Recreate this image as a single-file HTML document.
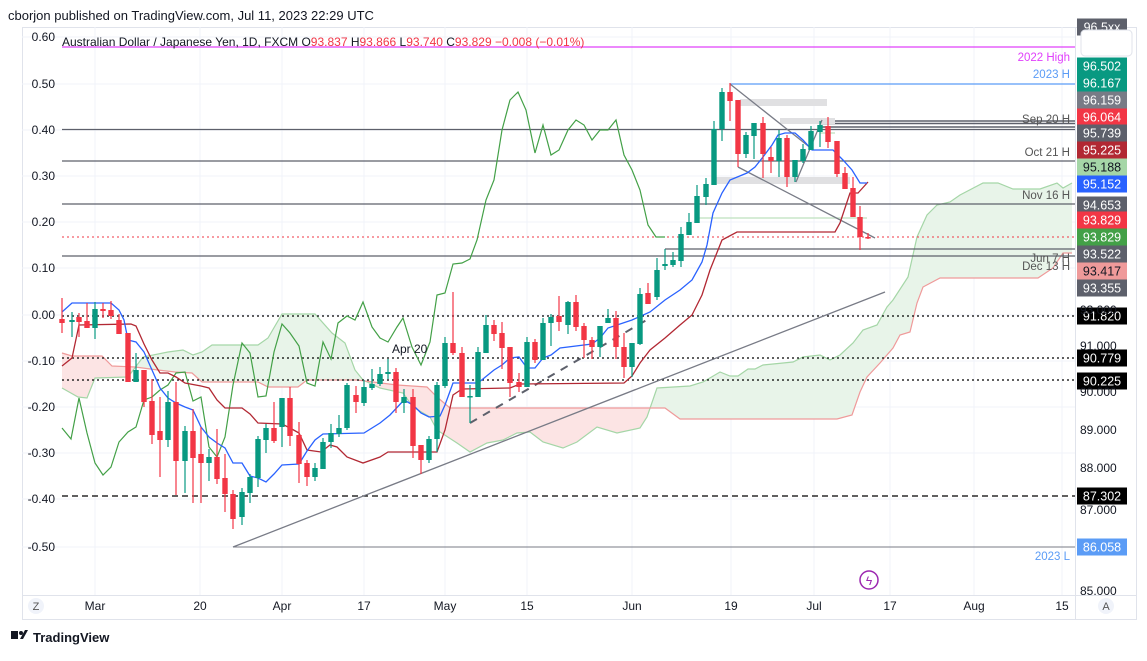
<!DOCTYPE html>
<html><head><meta charset="utf-8"><style>
body{margin:0;background:#fff;width:1147px;height:656px;overflow:hidden;font-family:"Liberation Sans",sans-serif}
svg text{font-family:"Liberation Sans",sans-serif}
</style></head><body>
<svg id="s" width="1147" height="656" xmlns="http://www.w3.org/2000/svg">
<rect x="0" y="0" width="1147" height="656" fill="#fff"/>
<text x="8" y="20" font-size="13" fill="#131722">cborjon published on TradingView.com, Jul 11, 2023 22:29 UTC</text>
<rect x="22.5" y="27.5" width="1114" height="592" fill="none" stroke="#e0e3eb"/>
<line x1="1075.5" y1="27" x2="1075.5" y2="620" stroke="#e0e3eb"/>
<line x1="22" y1="595.5" x2="1137" y2="595.5" stroke="#e0e3eb"/>
<g id="grid" stroke="#f0f3fa" stroke-width="1"></g>
<g id="cloud"></g>
<g id="lines"></g>
<g id="cand"></g>
<g id="over"></g>
<g id="axis" font-size="12" fill="#131722"></g>
<text x="62" y="46" font-size="12" fill="#131722">Australian Dollar / Japanese Yen, 1D, FXCM O<tspan fill="#f23645">93.837</tspan> H<tspan fill="#f23645">93.866</tspan> L<tspan fill="#f23645">93.740</tspan> C<tspan fill="#f23645">93.829</tspan> <tspan fill="#f23645">−0.008 (−0.01%)</tspan></text>
<text x="392" y="353" font-size="12" fill="#131722">Apr 20</text>
<g font-size="11.5" text-anchor="end">
<text x="1070" y="61" fill="#e040fb">2022 High</text>
<text x="1070" y="78" fill="#5b9cf6">2023 H</text>
<text x="1070" y="123" fill="#555">Sep 20 H</text>
<text x="1070" y="156" fill="#555">Oct 21 H</text>
<text x="1070" y="199" fill="#555">Nov 16 H</text>
<text x="1070" y="262" fill="#555">Jun 7 H</text>
<text x="1070" y="270" fill="#555">Dec 13 H</text>
<text x="1070" y="560" fill="#5b9cf6">2023 L</text>
</g>
<circle cx="869" cy="580" r="9" fill="none" stroke="#9c27b0" stroke-width="1.5"/>
<text x="869" y="585" font-size="12" fill="#9c27b0" text-anchor="middle">ϟ</text>
<circle cx="36" cy="606" r="8" fill="#f0f3fa"/><text x="36" y="610" font-size="11" text-anchor="middle" fill="#555">Z</text>
<circle cx="1106" cy="606" r="8" fill="#f0f3fa"/><text x="1106" y="610" font-size="11" text-anchor="middle" fill="#555">A</text>
<rect x="11" y="631" width="7" height="8" fill="#131722"/><circle cx="21" cy="633" r="2" fill="#131722"/><path d="M20 639 L25 630 L28 630 L23 639Z" fill="#131722"/>
<text x="33" y="642" font-size="13" fill="#131722" font-weight="bold">TradingView</text>
</svg>
<script>
var S=document.getElementById('s'),NS='http://www.w3.org/2000/svg';
function el(g,t,a){var e=document.createElementNS(NS,t);for(var k in a)e.setAttribute(k,a[k]);document.getElementById(g).appendChild(e);return e;}
function pl(g,pts,c,w,extra){var a={points:pts.map(p=>p.join(',')).join(' '),fill:'none',stroke:c,'stroke-width':w||1.3};for(var k in extra)a[k]=extra[k];return el(g,'polyline',a);}
[95,200,282,364,445,527,632,731,814,890,974,1062].forEach(x=>el('grid','line',{x1:x,y1:27,x2:x,y2:595}));
[37,84,130,176,222,268,315,361,407,453,499,547].forEach(y=>el('grid','line',{x1:22,y1:y,x2:1075,y2:y}));
var A=[[62,388],[78,397],[87,398],[95,378],[128,377],[143,357],[168,352],[183,350],[193,355],[202,352],[212,345],[258,345],[268,338],[282,314],[315,314],[332,333],[345,343],[355,370],[363,380],[380,388],[403,393],[413,407],[430,417],[437,430],[457,443],[470,452],[487,443],[503,440],[517,433],[530,432],[543,442],[563,448],[577,442],[597,427],[617,433],[640,428],[647,417],[657,388],[690,386],[703,382],[720,372],[730,376],[738,376],[748,369],[755,369],[763,365],[793,362],[803,357],[820,355],[830,360],[840,355],[853,343],[863,330],[877,325],[887,307],[893,300],[908,277],[917,237],[927,215],[937,205],[950,202],[960,195],[983,183],[998,183],[1013,189],[1040,189],[1057,183],[1063,188],[1072,183]];
var B=[[62,353],[72,356],[102,356],[112,366],[135,367],[158,370],[175,372],[192,373],[202,382],[258,382],[268,387],[298,387],[307,380],[357,380],[397,385],[427,387],[437,397],[450,408],[665,408],[680,419],[837,419],[852,415],[860,392],[867,377],[880,363],[893,348],[900,335],[910,332],[917,303],[923,287],[940,278],[1038,278],[1053,268],[1063,253],[1072,253]];
function interp(P,x){for(var i=0;i<P.length-1;i++){if(x>=P[i][0]&&x<=P[i+1][0]){var t=(x-P[i][0])/(P[i+1][0]-P[i][0]);return P[i][1]+t*(P[i+1][1]-P[i][1]);}}return P[P.length-1][1];}
for(var x=62;x<1072;x+=2){var x2=Math.min(x+2,1072);var a1=interp(A,x),b1=interp(B,x),a2=interp(A,x2),b2=interp(B,x2);var g=(a1+a2)<(b1+b2);
el('cloud','polygon',{points:x+','+a1+' '+x2+','+a2+' '+x2+','+b2+' '+x+','+b1,fill:g?'#e8f4e9':'#fce4e4',stroke:'none'});}
pl('cloud',A,'#a5d6a7',1.2);pl('cloud',B,'#ef9a9a',1.2);
function hl(y,x1,x2,c,w,d){var a={x1:x1,y1:y,x2:x2,y2:y,stroke:c,'stroke-width':w||1};if(d)a['stroke-dasharray']=d;el('lines','line',a);}
hl(47,62,1075,'#e040fb',1.2);hl(84,730,1075,'#5b9cf6',1.2);
hl(121,820,1075,'#5d606b',1.6);hl(123.5,820,1075,'#5d606b',1.6);hl(127,820,1075,'#5d606b',1.6);
hl(129.5,62,1075,'#5d606b',1.2);hl(161,62,1075,'#5d606b',1.2);hl(204,62,1075,'#5d606b',1.2);
hl(237,62,1075,'#f23645',1,'2,3');hl(249,665,1075,'#5d606b',1.2);hl(256,62,1075,'#5d606b',1.2);
hl(316,62,1075,'#000',1.2,'2,3');hl(358,62,1075,'#000',1.2,'2,3');hl(380,62,1075,'#000',1.2,'2,3');
hl(496,62,1075,'#000',1.2,'6,4');hl(547,233,1075,'#787b86',1);
hl(218,697,867,'#c8e6c9',1.5);hl(133,820,835,'#c8e6c9',1.5);
el('lines','line',{x1:665,y1:249,x2:665,y2:262,stroke:'#5d606b'});
el('lines','rect',{x:740,y:99,width:87,height:7,fill:'#e0e0e2'});
el('lines','rect',{x:780,y:118,width:55,height:6,fill:'#e0e0e2'});
el('lines','rect',{x:715,y:177,width:135,height:7,fill:'#e0e0e2'});
el('lines','line',{x1:233,y1:547,x2:885,y2:292,stroke:'#787b86','stroke-width':1.3});
el('lines','line',{x1:470,y1:423,x2:650,y2:318,stroke:'#5d606b','stroke-width':2,'stroke-dasharray':'8,7'});
el('lines','line',{x1:730,y1:84,x2:812,y2:149,stroke:'#787b86','stroke-width':1.3});
el('lines','line',{x1:738,y1:167,x2:875,y2:238,stroke:'#787b86','stroke-width':1.3});
el('lines','line',{x1:796,y1:182,x2:822,y2:120,stroke:'#787b86','stroke-width':1.3});
var blue=[[62,312],[72,303],[111,303],[119,310],[124,320],[128,340],[136,342],[144,352],[152,370],[160,388],[168,398],[176,403],[185,407],[193,410],[201,427],[209,437],[217,443],[225,448],[233,463],[242,463],[250,476],[258,478],[266,482],[274,474],[282,465],[299,464],[307,451],[315,440],[323,434],[364,433],[380,423],[390,415],[404,400],[413,405],[421,413],[429,417],[440,416],[445,405],[453,383],[478,383],[494,370],[502,365],[510,358],[519,357],[527,368],[535,368],[543,358],[551,355],[560,348],[592,344],[600,338],[608,328],[632,320],[650,312],[665,300],[680,290],[692,280],[702,262],[707,245],[713,213],[722,193],[730,180],[747,173],[755,167],[763,157],[772,145],[778,135],[785,133],[795,133],[803,140],[812,150],[833,150],[843,160],[852,170],[860,183],[867,183]];
var red=[[62,366],[72,358],[79,325],[131,324],[136,326],[144,344],[152,360],[160,373],[168,373],[176,377],[185,383],[201,386],[209,388],[217,400],[225,408],[242,408],[250,414],[258,423],[282,424],[290,428],[299,433],[307,450],[321,452],[330,445],[337,447],[347,457],[363,463],[380,457],[388,452],[437,452],[445,430],[453,395],[462,389],[510,388],[520,384],[624,383],[632,376],[640,363],[650,350],[665,338],[680,325],[692,315],[702,295],[710,270],[722,240],[737,232],[835,232],[840,223],[850,193],[858,193],[868,182]];
var grn=[[62,428],[71,439],[79,398],[87,433],[95,463],[103,475],[111,467],[119,442],[128,432],[136,427],[144,400],[152,397],[160,390],[168,385],[176,373],[185,372],[193,401],[201,397],[209,447],[217,457],[225,437],[233,385],[242,343],[250,353],[258,397],[266,396],[274,352],[282,324],[290,333],[299,346],[307,383],[315,386],[323,342],[331,359],[338,323],[347,316],[355,320],[363,302],[372,327],[380,338],[388,342],[397,327],[403,318],[412,347],[421,365],[430,342],[437,295],[445,293],[453,264],[462,263],[470,259],[477,240],[486,200],[494,180],[502,130],[510,100],[518,92],[526,110],[535,153],[543,125],[551,155],[559,150],[568,130],[576,120],[584,125],[592,140],[600,130],[608,130],[616,120],[624,155],[632,170],[640,190],[648,225],[656,237],[665,237]];
pl('lines',grn,'#43a047',1.2);pl('lines',red,'#b22833',1.3);pl('lines',blue,'#2962ff',1.3);
var C=[[62,319,323,298,333],[72,322,320,312,337],[79,317,322,313,337],[87,321,328,303,328],[95,328,309,302,339],[103,309,311,303,318],[111,310,316,301,319],[119,320,334,314,334],[128,333,382,333,382],[136,382,370,353,382],[144,370,402,370,407],[152,401,435,379,444],[160,431,440,397,477],[168,440,402,391,447],[176,402,461,382,495],[185,461,431,426,493],[193,431,458,409,503],[201,454,463,427,503],[209,463,457,449,481],[217,457,479,429,484],[225,478,494,454,512],[233,494,519,490,529],[242,517,492,488,525],[250,493,477,474,503],[258,478,439,436,487],[266,440,428,424,453],[274,428,441,402,443],[282,427,398,398,447],[290,398,436,387,446],[299,435,464,422,483],[307,463,477,460,486],[315,477,468,463,481],[323,469,442,438,469],[331,442,433,424,448],[339,434,428,415,437],[347,428,385,383,430],[356,395,402,386,413],[364,403,387,380,406],[372,388,384,369,390],[380,384,374,367,386],[388,374,372,359,379],[396,372,402,368,413],[404,403,397,389,413],[413,397,446,389,458],[421,445,460,445,474],[429,460,439,436,463],[437,439,385,382,452],[445,386,343,337,388],[453,343,353,292,355],[462,353,397,347,397],[470,397,396,385,423],[478,397,352,347,397],[486,353,325,315,353],[494,325,334,320,341],[502,333,348,322,369],[510,347,383,347,397],[519,382,387,373,392],[527,387,342,337,387],[535,342,360,339,363],[543,360,323,318,360],[551,323,317,314,346],[559,316,322,296,331],[568,325,302,301,334],[576,302,327,295,331],[584,326,340,323,358],[592,340,347,337,359],[600,347,326,326,357],[608,323,318,309,323],[616,318,347,311,359],[624,347,367,333,378],[632,367,343,343,377],[640,344,294,288,345],[648,293,304,283,304],[657,297,270,258,300],[665,266,264,249,270],[673,265,260,252,267],[681,261,234,227,267],[689,235,222,213,235],[697,223,196,185,223],[706,197,184,178,205],[714,185,129,121,185],[722,129,92,88,141],[730,92,101,83,121],[738,100,154,100,167],[746,154,135,132,158],[754,136,123,123,159],[763,123,154,117,178],[771,157,161,147,173],[779,161,138,130,177],[787,138,177,135,187],[795,177,160,160,182],[803,161,149,144,163],[811,150,131,126,150],[820,132,125,121,147],[828,126,142,117,148],[837,141,174,141,177],[845,173,189,167,189],[853,188,217,177,217],[860,217,237,206,250],[868,237,237.5,233,239]];
C.forEach(function(k){var up=k[2]<k[1];var col=up?'#089981':'#f23645';
el('cand','line',{x1:k[0],y1:k[3],x2:k[0],y2:k[4],stroke:col,'stroke-width':1.2});
var t=Math.min(k[1],k[2]),h=Math.max(1.5,Math.abs(k[1]-k[2]));el('cand','rect',{x:k[0]-2.7,y:t,width:5.4,height:h,fill:col});});
[['0.60',37],['0.50',84],['0.40',130],['0.30',176],['0.20',222],['0.10',268],['0.00',315],['-0.10',361],['-0.20',407],['-0.30',453],['-0.40',499],['-0.50',547]].forEach(function(v){var t=el('axis','text',{x:55,y:v[1]+4,'text-anchor':'end'});t.textContent=v[0];});
[['Mar',95],['20',200],['Apr',282],['17',364],['May',445],['15',527],['Jun',632],['19',731],['Jul',814],['17',890],['Aug',974],['15',1062]].forEach(function(v){var t=el('axis','text',{x:v[1],y:610,'text-anchor':'middle'});t.textContent=v[0];});
[['91.000',346],['90.000',392],['89.000',430],['88.000',468],['87.000',510],['85.000',591],['93.000',310]].forEach(function(v){var t=el('axis','text',{x:1080,y:v[1]+4});t.textContent=v[0];});
var R=[['96.5xx',27,'#5d606b','#fff'],['96.502',66,'#089981','#fff'],['96.167',83,'#089981','#fff'],['96.159',100,'#787b86','#fff'],['96.064',117,'#f23645','#fff'],['95.739',133,'#5d606b','#fff'],['95.225',150,'#b22833','#fff'],['95.188',167,'#a5d6a7','#131722'],['95.152',184,'#2962ff','#fff'],['94.653',205,'#5d606b','#fff'],['93.829',220,'#f23645','#fff'],['93.829',237,'#43a047','#fff'],['93.522',254,'#5d606b','#fff'],['93.417',271,'#ef9a9a','#131722'],['93.355',288,'#5d606b','#fff'],['91.820',316,'#000','#fff'],['90.779',358,'#000','#fff'],['90.225',381,'#000','#fff'],['87.302',496,'#000','#fff'],['86.058',547,'#5b9cf6','#fff']];
R.forEach(function(v){el('over','rect',{x:1077,y:v[1]-8.5,width:50,height:17,fill:v[2]});var t=el('over','text',{x:1102,y:v[1]+4.5,'text-anchor':'middle','font-size':12.5,fill:v[3]});t.textContent=v[0];});
el('over','rect',{x:1081,y:30,width:51,height:26,rx:4,fill:'#fff',stroke:'#e0e3eb'});
</script>
</body></html>
